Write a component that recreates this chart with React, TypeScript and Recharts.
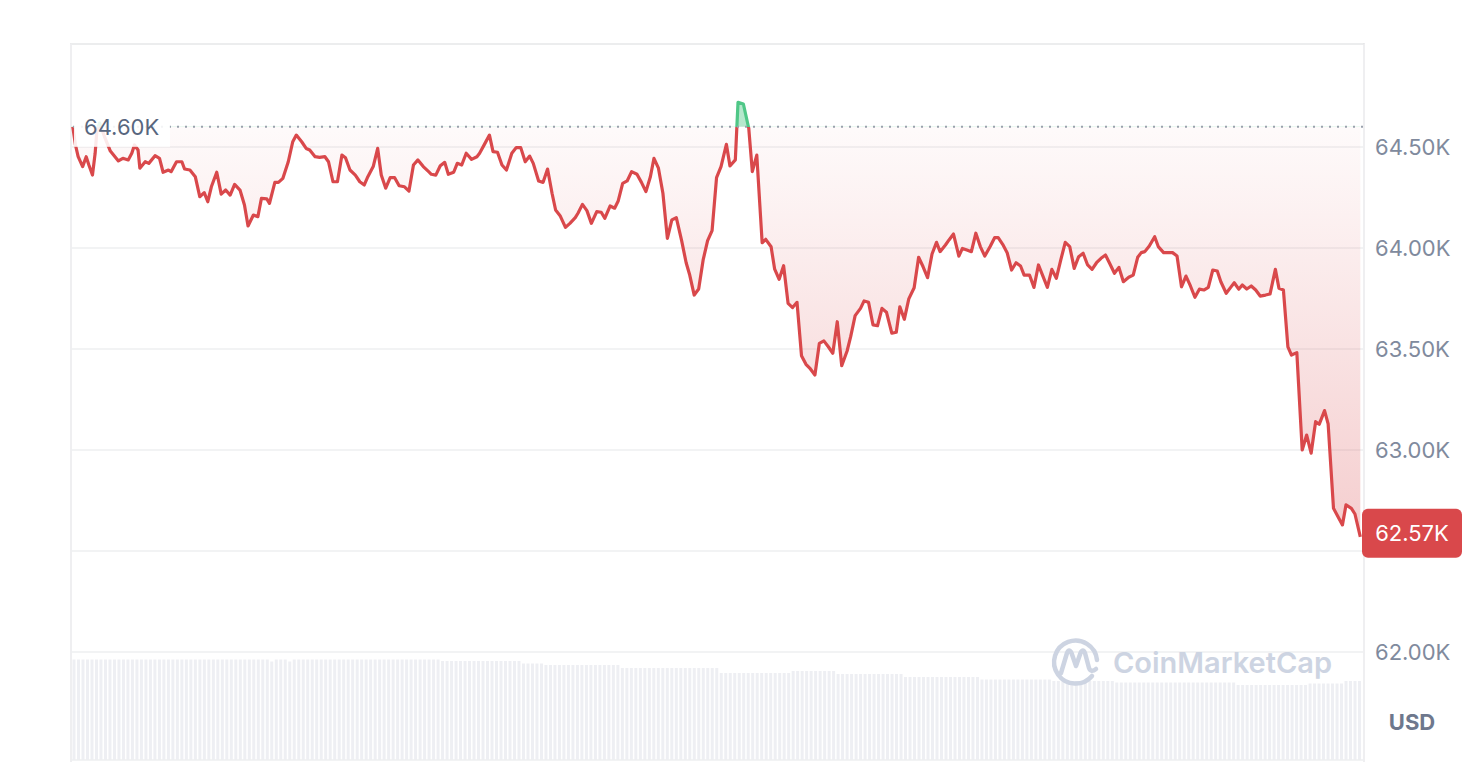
import React from 'react';
import { AreaChart, Area, XAxis, YAxis, CartesianGrid, ReferenceLine, BarChart, Bar } from 'recharts';

// minutes since start of the 24h window
const minutes = [
  0, 3, 6, 11, 15, 18, 22, 25, 27, 30, 36, 42, 51, 56, 62, 66, 69, 73, 75, 81,
  85, 92, 97, 101, 107, 110, 116, 122, 125, 131, 137, 142, 147, 151, 155, 161, 166, 171, 176, 181,
  187, 192, 196, 202, 207, 211, 217, 220, 226, 230, 235, 241, 246, 250, 256, 261, 265, 271, 276, 282,
  286, 291, 296, 301, 305, 310, 316, 321, 326, 330, 336, 341, 345, 350, 355, 360, 365, 371, 376, 381,
  386, 392, 398, 401, 406, 411, 416, 420, 426, 430, 435, 440, 446, 452, 455, 461, 466, 470, 475, 480,
  485, 491, 496, 501, 506, 511, 515, 521, 526, 531, 536, 540, 545, 551, 556, 562, 565, 570, 575, 580,
  586, 591, 595, 601, 606, 610, 615, 620, 625, 631, 636, 641, 646, 650, 655, 660, 665, 670, 675, 681,
  686, 690, 695, 700, 705, 710, 715, 720, 725, 731, 735, 741, 744, 750, 756, 760, 765, 771, 775, 781,
  785, 790, 795, 800, 805, 810, 815, 820, 825, 830, 835, 840, 845, 850, 855, 860, 866, 870, 875, 881,
  885, 890, 895, 900, 905, 910, 916, 921, 925, 930, 935, 941, 946, 951, 956, 961, 966, 970, 976, 980,
  985, 991, 995, 1000, 1005, 1010, 1015, 1020, 1026, 1031, 1035, 1040, 1045, 1050, 1055, 1060, 1064, 1070, 1075, 1080,
  1085, 1090, 1095, 1100, 1105, 1110, 1115, 1120, 1125, 1130, 1135, 1140, 1145, 1150, 1155, 1160, 1165, 1170, 1175, 1181,
  1186, 1191, 1195, 1199, 1204, 1210, 1214, 1220, 1225, 1230, 1235, 1240, 1245, 1250, 1255, 1260, 1265, 1270, 1275, 1280,
  1284, 1290, 1295, 1299, 1304, 1308, 1313, 1318, 1323, 1328, 1334, 1339, 1345, 1349, 1354, 1359, 1363, 1369, 1375, 1380,
  1385, 1390, 1394, 1400, 1404, 1410, 1414, 1420, 1424, 1430, 1434, 1440,
];

const prices = [
  64600, 64510, 64452, 64403, 64452, 64411, 64361, 64469, 64584, 64619, 64545, 64480, 64431, 64444, 64436, 64469, 64510, 64485, 64395, 64427,
  64419, 64457, 64444, 64375, 64386, 64378, 64427, 64427, 64391, 64386, 64353, 64254, 64274, 64229, 64303, 64375, 64267, 64287, 64262, 64315,
  64287, 64213, 64109, 64163, 64155, 64246, 64243, 64221, 64325, 64325, 64345, 64427, 64526, 64559, 64526, 64493, 64485, 64452, 64449, 64452,
  64427, 64328, 64328, 64460, 64447, 64386, 64361, 64328, 64312, 64353, 64403, 64493, 64361, 64296, 64348, 64348, 64308, 64303, 64282, 64411,
  64436, 64403, 64378, 64365, 64361, 64407, 64424, 64365, 64375, 64419, 64411, 64469, 64439, 64452, 64469, 64518, 64559, 64477, 64474, 64411,
  64386, 64469, 64497, 64497, 64427, 64455, 64419, 64332, 64325, 64391, 64271, 64188, 64160, 64102, 64122, 64150, 64172, 64216, 64185, 64122,
  64180, 64177, 64147, 64208, 64197, 64233, 64320, 64332, 64378, 64365, 64325, 64279, 64353, 64444, 64395, 64271, 64048, 64139, 64150, 64035,
  63927, 63866, 63767, 63797, 63941, 64036, 64086, 64348, 64403, 64513, 64406, 64436, 64721, 64713, 64593, 64378, 64460, 64026, 64043, 64006,
  63895, 63845, 63912, 63726, 63705, 63731, 63467, 63424, 63401, 63371, 63528, 63540, 63511, 63479, 63635, 63417, 63490, 63561, 63665, 63701,
  63738, 63731, 63619, 63615, 63701, 63682, 63578, 63583, 63709, 63647, 63748, 63803, 63954, 63907, 63853, 63970, 64028, 63982, 64015, 64040,
  64069, 63960, 63998, 63990, 63982, 64073, 64007, 63960, 64007, 64051, 64051, 64018, 63977, 63891, 63927, 63911, 63866, 63866, 63805, 63916,
  63861, 63805, 63894, 63850, 63941, 64028, 64007, 63899, 63957, 63974, 63916, 63894, 63927, 63949, 63965, 63921, 63875, 63904, 63833, 63855,
  63866, 63954, 63977, 63982, 64010, 64056, 64007, 63977, 63977, 63977, 63960, 63808, 63861, 63812, 63756, 63796, 63792, 63805, 63891, 63886,
  63833, 63776, 63805, 63828, 63796, 63817, 63797, 63812, 63792, 63762, 63767, 63772, 63894, 63801, 63792, 63511, 63470, 63482, 63000, 63074,
  62984, 63140, 63127, 63195, 63129, 62711, 62678, 62629, 62728, 62711, 62683, 62570,
];

// volume (billions USD), one bar per 5-minute slot
const volumes = [
  20.1, 20.1, 20.1, 20.1, 20.1, 20.1, 20.1, 20.1, 20.1, 20.1, 20.1,
  20.1, 20.1, 20.1, 20.1, 20.1, 20.1, 20.1, 20.1, 20.1, 20.1, 20.1,
  20.1, 20.1, 20.1, 20.1, 20.1, 20.1, 20.1, 20.1, 20.1, 20.1, 20.1,
  20.1, 20.1, 20.1, 20.1, 20.1, 20.1, 20.1, 20.1, 20.1, 20.1, 20.1,
  19.7, 20.1, 20.1, 20.1, 19.7,
  20.1, 20.1, 20.1, 20.1, 20.1, 20.1, 20.1, 20.1, 20.1, 20.1, 20.1,
  20.1, 20.1, 20.1, 20.1, 20.1, 20.1, 20.1, 20.1, 20.1, 20.1, 20.1,
  20.1, 20.1, 20.1, 20.1, 20.1, 20.1, 20.1, 20.1, 20.1, 20.1, 20.1,
  19.8, 19.8, 19.8, 19.8, 19.8, 19.8, 19.8, 19.8, 19.8, 19.8, 19.8, 19.8, 19.8, 19.8, 19.8, 19.8, 19.8, 19.8,
  19.3, 19.3, 19.3, 19.3, 19.3,
  19.0, 19.0, 19.0, 19.0, 19.0, 19.0, 19.0, 19.0, 19.0, 19.0, 19.0, 19.0, 19.0, 19.0, 19.0, 19.0, 19.0,
  18.4, 18.4, 18.4, 18.4, 18.4, 18.4, 18.4, 18.4, 18.4, 18.4, 18.4, 18.4, 18.4, 18.4, 18.4, 18.4, 18.4, 18.4, 18.4, 18.4, 18.4, 18.4,
  17.4, 17.4, 17.4, 17.4, 17.4, 17.4, 17.4, 17.4, 17.4, 17.4, 17.4, 17.4, 17.4, 17.4, 17.4, 17.4,
  17.8, 17.8, 17.8, 17.8, 17.8, 17.8, 17.8, 17.8, 17.8, 17.8,
  17.2, 17.2, 17.2, 17.2, 17.2, 17.2, 17.2, 17.2, 17.2, 17.2, 17.2, 17.2, 17.2, 17.2, 17.2,
  16.6, 16.6, 16.6, 16.6, 16.6, 16.6, 16.6, 16.6, 16.6, 16.6, 16.6, 16.6, 16.6, 16.6, 16.6, 16.6, 16.6,
  16.1, 16.1, 16.1, 16.1, 16.1, 16.1, 16.1, 16.1, 16.1, 16.1, 16.1, 16.1, 16.1, 16.1, 16.1, 16.1,
  15.8, 15.8, 15.8, 15.8, 15.8, 15.8, 15.8, 15.8, 15.8, 15.8, 15.8, 15.8, 15.8, 15.8,
  15.5, 15.5, 15.5, 15.5, 15.5, 15.5, 15.5, 15.5, 15.5, 15.5, 15.5, 15.5, 15.5, 15.5,
  15.5, 15.5, 15.5, 15.5, 15.5, 15.5, 15.5, 15.5, 15.5, 15.5, 15.5, 15.5, 15.5,
  15.0, 15.0, 15.0, 15.0, 15.0, 15.0, 15.0, 15.0, 15.0, 15.0, 15.0, 15.0, 15.0, 15.0, 15.0, 15.0,
  15.3, 15.3, 15.3, 15.3, 15.3, 15.3, 15.3, 15.3,
  15.8, 15.8, 15.8, 15.8,
];

const yTicks = [62000, 62500, 63000, 63500, 64000, 64500];
const openPrice = 64600;
const currency = 'USD';
const brand = 'CoinMarketCap';

const RED = '#d9484b';
const GREEN = '#4fc787';
const FONT = 'Inter, "Noto Sans", sans-serif';

const fmtK = (v: number) => (v / 1000).toFixed(2) + 'K';

const priceData = minutes.map((t, i) => ({ t, p: prices[i] }));
const volumeData = volumes.map((v, i) => ({ i, v }));
const lastPrice = prices[prices.length - 1];
const maxP = Math.max(...prices);
const minP = Math.min(...prices);
const splitOff = (maxP - openPrice) / (maxP - minP);

// tick labels; the one lying under the current-price tag is covered by it in the original
function PriceTick(props: any) {
  const { x, y, payload } = props;
  if (Math.abs(payload.value - lastPrice) < 120) return <g />;
  return (
    <text x={x} y={y} dy="0.36em" textAnchor="start" fill="#808a9d" fontSize={22} fontFamily={FONT}>
      {fmtK(payload.value)}
    </text>
  );
}

function OpenLabel(props: any) {
  const vb = props.viewBox || {};
  const x = vb.x ?? 0;
  const y = vb.y ?? 0;
  return (
    <g>
      <rect x={x + 3} y={y - 17} width={96} height={37} fill="#ffffff" fillOpacity={0.88} />
      <text x={x + 13} y={y} dy="0.36em" fill="#58667e" fontSize={22} fontFamily={FONT}>
        {fmtK(openPrice)}
      </text>
    </g>
  );
}

function PriceTag(props: any) {
  const vb = props.viewBox || {};
  const x = (vb.x ?? 0) + (vb.width ?? 0) - 1;
  const y = vb.y ?? 0;
  return (
    <g>
      <rect x={x} y={y - 28} width={100} height={49} rx={6} ry={6} fill={RED} />
      <text x={x + 50} y={y - 3.5} dy="0.36em" textAnchor="middle" fill="#ffffff" fontSize={22} fontFamily={FONT}>
        {fmtK(lastPrice)}
      </text>
    </g>
  );
}

export default function App() {
  return (
    <div style={{ position: 'absolute', left: 0, top: 0, width: 1480, height: 775, background: '#ffffff', overflow: 'hidden' }}>
      {/* plot frame */}
      <div
        style={{
          position: 'absolute', left: 70, top: 43, width: 1291, height: 717,
          borderTop: '2px solid #e6e6e8', borderLeft: '2px solid #efeff1', borderRight: '2px solid #efeff1',
        }}
      />
      {/* volume */}
      <div style={{ position: 'absolute', left: 72, top: 658, width: 1290, height: 102 }}>
        <BarChart width={1290} height={102} data={volumeData} margin={{ top: 0, right: 0, bottom: 0, left: 0 }} barCategoryGap={0.5}>
          <XAxis dataKey="i" hide />
          <YAxis hide domain={[0, 20.4]} allowDataOverflow />
          <Bar dataKey="v" fill="#eeeff3" isAnimationActive={false} />
        </BarChart>
      </div>
      {/* price */}
      <div style={{ position: 'absolute', left: 0, top: 0 }}>
        <AreaChart width={1480} height={775} data={priceData} margin={{ top: 44, right: 17, bottom: 15, left: 71 }}>
          <defs>
            <linearGradient id="lineGrad" x1="0" y1="0" x2="0" y2="1">
              <stop offset={0} stopColor={GREEN} />
              <stop offset={splitOff} stopColor={GREEN} />
              <stop offset={splitOff} stopColor={RED} />
              <stop offset={1} stopColor={RED} />
            </linearGradient>
            <linearGradient id="fillGrad" x1="0" y1="0" x2="0" y2="1">
              <stop offset={0} stopColor={GREEN} stopOpacity={0.42} />
              <stop offset={splitOff} stopColor={GREEN} stopOpacity={0.42} />
              <stop offset={splitOff} stopColor={RED} stopOpacity={0.025} />
              <stop offset={1} stopColor={RED} stopOpacity={0.27} />
            </linearGradient>
          </defs>
          <CartesianGrid vertical={false} stroke="#eeeff1" strokeWidth={1.5} />
          <XAxis dataKey="t" type="number" domain={[-2, 1443]} hide allowDataOverflow />
          <YAxis
            orientation="right"
            domain={[61465, 65010]}
            ticks={yTicks}
            interval={0}
            allowDataOverflow
            tickFormatter={fmtK}
            axisLine={false}
            tickLine={false}
            tickSize={0}
            tickMargin={12}
            width={100}
            tick={<PriceTick />}
          />
          <Area
            type="linear"
            dataKey="p"
            baseValue={openPrice}
            stroke="url(#lineGrad)"
            strokeWidth={3.2}
            strokeLinejoin="round"
            fill="url(#fillGrad)"
            fillOpacity={1}
            dot={false}
            activeDot={false}
            isAnimationActive={false}
          />
          <ReferenceLine y={openPrice} stroke="#9aa1ad" strokeWidth={2} strokeDasharray="2 6" label={<OpenLabel />} />
          <ReferenceLine y={lastPrice} stroke="none" label={<PriceTag />} />
        </AreaChart>
      </div>
      {/* watermark & currency */}
      <svg width={1480} height={775} style={{ position: 'absolute', left: 0, top: 0, pointerEvents: 'none' }}>
        <g fill="none" stroke="#cdd4e2" strokeWidth={4.5} strokeLinecap="round" strokeLinejoin="round">
          <path d="M 1092 676 A 21.5 21.5 0 1 1 1097 660" />
          <path d="M 1061 673 L 1067 653 Q 1069 648 1071.5 653 L 1076 666 L 1080.5 653 Q 1083 648 1085 653 L 1089 668 Q 1091 673 1096 669" />
        </g>
        <text x={1113} y={673} fontSize={29} fontWeight={600} fill="#cdd4e2" fontFamily={FONT}>{brand}</text>
        <text x={1412} y={722} dy="0.36em" textAnchor="middle" fontSize={22} fontWeight={700} fill="#6e788d" fontFamily={FONT}>{currency}</text>
      </svg>
    </div>
  );
}
